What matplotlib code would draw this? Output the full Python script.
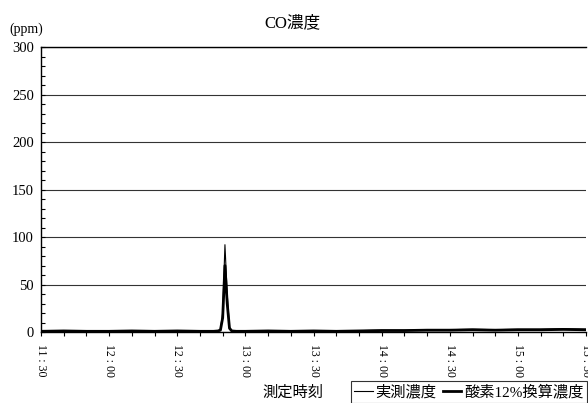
#!/usr/bin/env python3
"""CO concentration chart (measured vs. 12% O2 corrected)."""

import matplotlib
matplotlib.use('Agg')
import matplotlib.pyplot as plt
from matplotlib.ticker import MultipleLocator

plt.rcParams['font.family'] = ['Liberation Serif', 'Noto Sans CJK JP']
plt.rcParams['font.size'] = 10.5

# minutes after 11:30
t_min = [0, 10, 20, 30, 40, 50, 60, 70, 76, 78, 79, 80, 81, 82, 83, 84, 86,
         90, 100, 110, 120, 130, 140, 150, 160, 170, 180, 190, 200, 210, 220, 230, 240]
co_actual = [1.0, 1.5, 1.0, 1.0, 1.5, 1.0, 1.5, 1.0, 1.0, 1.5, 3.0, 20.0, 92.0, 40.0, 5.0, 1.5, 1.0,
             1.0, 1.5, 1.0, 1.5, 1.0, 1.5, 2.0, 2.0, 2.5, 2.5, 3.0, 2.5, 3.0, 3.0, 3.5, 3.0]
co_o2_12 = [0.8, 1.2, 0.8, 0.8, 1.2, 0.8, 1.2, 0.8, 0.8, 1.2, 2.0, 15.0, 70.0, 30.0, 4.0, 1.2, 0.8,
            0.8, 1.2, 0.8, 1.2, 0.8, 1.2, 1.6, 1.6, 2.0, 2.0, 2.4, 2.0, 2.4, 2.4, 2.8, 2.4]
tick_labels = ['11 : 30', '12 : 00', '12 : 30', '13 : 00', '13 : 30',
               '14 : 00', '14 : 30', '15 : 00', '15 : 30']

fig = plt.figure(figsize=(5.88, 4.03), dpi=100)
ax = fig.add_axes([0.0697, 0.176, 0.927, 0.707])

ax.plot(t_min, co_actual, color='black', linewidth=0.8, label='実測濃度')
ax.plot(t_min, co_o2_12, color='black', linewidth=2.0, label='酸素12%換算濃度')

ax.set_xlim(0, 240)
ax.set_ylim(0, 300)
ax.xaxis.set_minor_locator(MultipleLocator(10))
ax.yaxis.set_major_locator(MultipleLocator(50))
ax.yaxis.set_minor_locator(MultipleLocator(10))
ax.set_xticks(range(0, 241, 30))
ax.set_xticklabels(tick_labels, rotation=-90, fontsize=8.5)
ax.tick_params(axis='x', which='both', direction='out', length=3, width=0.8, pad=5.5)
ax.tick_params(axis='y', which='both', direction='in', length=3, width=0.8,
               labelsize=10.5, pad=5)
ax.grid(axis='y', which='major', color='#333333', linewidth=0.8)
ax.set_axisbelow(True)
for side in ['top', 'right']:
    ax.spines[side].set_visible(False)
ax.spines['left'].set_linewidth(1.0)
ax.spines['bottom'].set_linewidth(1.0)
ax.axhline(300, color='black', linewidth=1.0, clip_on=False)

fig.text(0.497, 0.942, 'CO濃度', fontsize=12, ha='center', va='center')
fig.text(0.016, 0.928, '(ppm)', fontsize=10, ha='left', va='center')
fig.text(0.498, 0.025, '測定時刻', fontsize=11, ha='center', va='center')

leg = fig.legend(loc='lower right', bbox_to_anchor=(0.999, 0.0), ncol=2,
                 fontsize=11, frameon=True, fancybox=False, edgecolor='black',
                 handlelength=1.2, handletextpad=0.2, columnspacing=0.4,
                 borderpad=0.25, borderaxespad=0.0)
leg.get_frame().set_linewidth(0.8)

fig.savefig('out.png', dpi=100)
